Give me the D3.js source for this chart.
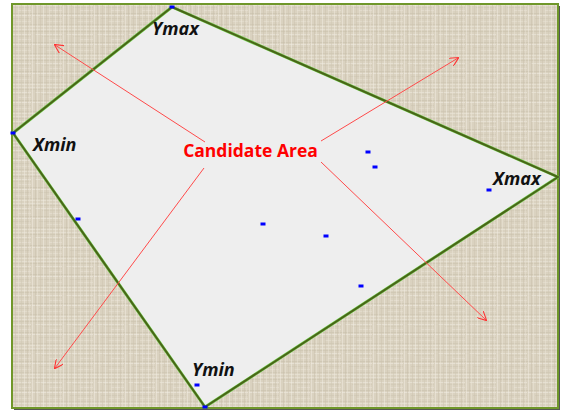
<!DOCTYPE html>
<html><head><meta charset="utf-8">
<script src="https://cdn.jsdelivr.net/npm/d3@7"></script>
<style>body{margin:0;background:#fff}svg{display:block}</style>
</head><body>
<script>
// Data (coordinates in chart units: x 0..546 left->right, y 0..404 top->bottom)
const hullNames = ["Ymax", "Xmax", "Ymin", "Xmin"];
const hullX = [160, 546, 193, 1];
const hullY = [3, 173, 403, 129];
const pointX = [160, 1, 66, 251, 314, 349, 356, 363, 477, 185, 193];
const pointY = [3, 129, 215, 220, 232, 282, 148, 163, 186, 381, 403];
const labelNames = ["Ymax", "Xmin", "Xmax", "Ymin"];
const labelX = [140, 21, 481, 180];
const labelY = [31, 147, 181, 372];
const arrowFromX = [193, 309, 309, 192];
const arrowFromY = [138, 137, 158, 164];
const arrowToX = [43, 446, 474, 43];
const arrowToY = [41, 54, 316, 364];
const centerLabel = "Candidate Area";

const W = 561, H = 414;
const svg = d3.select("body").append("svg").attr("width", W).attr("height", H);
const defs = svg.append("defs");

// linen texture pattern
const TW = 31, TH = 29;
const pat = defs.append("pattern").attr("id", "linen").attr("patternUnits", "userSpaceOnUse")
  .attr("width", TW).attr("height", TH);
pat.append("rect").attr("width", TW).attr("height", TH).attr("fill", "#dad2c0");
const hl = [0,2,5,7,10,13,15,18,21,24,26];
const hc = ["#ebe5d8","#c9c0ab","#eee9de","#d0c7b3","#e8e2d4","#c8bfaa","#f0ebe1","#cec5b1","#e6dfd1","#ccc3ae","#ece6da"];
hl.forEach((yy,i)=>pat.append("rect").attr("x",(i*7)%TW - 10).attr("y",yy).attr("width",TW+20).attr("height",1).attr("fill",hc[i]).attr("opacity",0.55));
const vl = [1,4,6,9,12,15,18,21,24,27,29];
const vc = ["#f1ece2","#c7bea9","#ebe5d8","#cdc4b0","#f2ede4","#cbc2ad","#e9e3d6","#d0c7b4","#efe9de","#c9c0ab","#e7e0d2"];
vl.forEach((xx,i)=>pat.append("rect").attr("x",xx).attr("y",0).attr("width",1).attr("height",TH).attr("fill",vc[i]).attr("opacity",0.5));

defs.append("marker").attr("id","arr").attr("viewBox","0 0 10 10").attr("refX",9).attr("refY",5)
  .attr("markerWidth",9).attr("markerHeight",9).attr("markerUnits","userSpaceOnUse").attr("orient","auto")
  .append("path").attr("d","M0,0 L10,5 L0,10").attr("fill","none").attr("stroke","#ff3030").attr("stroke-width",1.2);

const x0 = 12, y0 = 4, w = 546, h = 404;
const x = d3.scaleLinear().domain([0, 546]).range([x0, x0 + w]);
const y = d3.scaleLinear().domain([0, 404]).range([y0, y0 + h]);

// shadow
svg.append("rect").attr("x", x0+2).attr("y", y0+2).attr("width", w).attr("height", h).attr("fill", "#555");
svg.append("rect").attr("x", x0).attr("y", y0).attr("width", w).attr("height", h)
  .attr("fill", "url(#linen)").attr("stroke", "#70972a").attr("stroke-width", 2);

const line = d3.line().x(d=>x(d[0])).y(d=>y(d[1]));
const hull = hullX.map((v,i)=>[v, hullY[i]]);
svg.append("path").attr("d", line(hull) + "Z").attr("fill", "#eeeeee")
  .attr("stroke", "#6fcf4c").attr("stroke-width", 3).attr("stroke-linejoin","round");
svg.append("path").attr("d", line(hull) + "Z").attr("fill", "none")
  .attr("stroke", "#4a6418").attr("stroke-width", 2).attr("stroke-linejoin","round");

// arrows
svg.selectAll("line.arrow").data(arrowFromX).join("line").attr("class","arrow")
  .attr("x1",(d,i)=>x(d)).attr("y1",(d,i)=>y(arrowFromY[i]))
  .attr("x2",(d,i)=>x(arrowToX[i])).attr("y2",(d,i)=>y(arrowToY[i]))
  .attr("stroke","#ff4a4a").attr("stroke-width",1).attr("marker-end","url(#arr)");

// points
svg.selectAll("rect.pt").data(pointX).join("rect").attr("class","pt")
  .attr("x",(d)=>x(d)-2.5).attr("y",(d,i)=>y(pointY[i])-1.5).attr("width",5).attr("height",3).attr("fill","#0000ff");

// labels
svg.selectAll("text.lbl").data(labelNames).join("text").attr("class","lbl")
  .attr("x",(d,i)=>x(labelX[i])).attr("y",(d,i)=>y(labelY[i]))
  .attr("font-family","'Open Sans', 'Liberation Sans', sans-serif").attr("font-style","italic")
  .attr("font-weight","bold").attr("font-size",18).attr("fill","#111").text(d=>d);

svg.append("text").attr("x", x(238.5)).attr("y", y(153)).attr("text-anchor","middle")
  .attr("font-family","'Open Sans', 'Liberation Sans', sans-serif").attr("font-weight","bold")
  .attr("font-size",17.5).attr("fill","#ff0000").text(centerLabel);
</script>
</body></html>
